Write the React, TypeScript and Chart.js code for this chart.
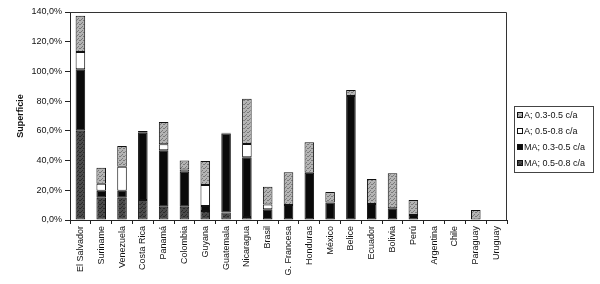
import React, { useEffect, useRef } from "react";
import { Chart, registerables } from "chart.js";

Chart.register(...registerables);

const countries = [
  "El Salvador", "Suriname", "Venezuela", "Costa Rica", "Panamá", "Colombia", "Guyana",
  "Guatemala", "Nicaragua", "Brasil", "G. Francesa", "Honduras", "México", "Belice",
  "Ecuador", "Bolivia", "Perú", "Argentina", "Chile", "Paraguay", "Uruguay",
];

// stacked from bottom to top
const maHigh = [60, 15, 15, 13.5, 9, 9, 6, 5, 2, 0, 0, 0, 0, 0, 0, 0, 0, 0, 0, 0, 0]; // MA; 0.5-0.8 c/a
const maLow = [41.5, 4.7, 4.7, 45.3, 38, 23.5, 3.4, 53.3, 40.2, 7.2, 10.1, 31.8, 11.7, 83.4, 10.8, 7.9, 3.4, 0, 0, 0, 0]; // MA; 0.3-0.5 c/a
const aHigh = [11.5, 4.7, 16.2, 0, 4, 1.5, 14.2, 0, 8.9, 3.3, 0, 0, 0, 0, 0, 0, 0, 0, 0, 0, 0]; // A; 0.5-0.8 c/a
const aLow = [24.5, 10.8, 13.9, 1.1, 15, 6, 16.1, 0.5, 30.5, 11.9, 22, 20.5, 7.1, 4.1, 16.8, 23.5, 10.1, 0, 0, 6.7, 0]; // A; 0.3-0.5 c/a

const yTicks = [0, 20, 40, 60, 80, 100, 120, 140];

const legendLabels = ["A; 0.3-0.5 c/a", "A; 0.5-0.8 c/a", "MA; 0.3-0.5 c/a", "MA; 0.5-0.8 c/a"];

const FONT = 'Arial, "Liberation Sans", sans-serif';

function makePattern(base: string, dot: string): CanvasPattern | string {
  const c = document.createElement("canvas");
  c.width = 4;
  c.height = 4;
  const g = c.getContext("2d");
  if (!g) return base;
  g.fillStyle = base;
  g.fillRect(0, 0, 4, 4);
  g.fillStyle = dot;
  g.fillRect(0, 0, 1, 1);
  g.fillRect(2, 2, 1, 1);
  g.fillRect(3, 0, 1, 1);
  g.fillRect(1, 3, 1, 1);
  const p = g.createPattern(c, "repeat");
  return p || base;
}

const nz = (arr: number[]) => arr.map((v) => (v === 0 ? null : v));

export default function App() {
  const ref = useRef<HTMLCanvasElement | null>(null);

  useEffect(() => {
    if (!ref.current) return;
    const lightPat = makePattern("#b4b4b4", "#7a7a7a");
    const darkPat = makePattern("#4a4a4a", "#2a2a2a");
    const fills = [lightPat, "#ffffff", "#0a0a0a", darkPat];

    const decor = {
      id: "decor",
      afterDraw(chart: any) {
        const ctx = chart.ctx as CanvasRenderingContext2D;
        const a = chart.chartArea;
        ctx.save();
        // frame top & right
        ctx.strokeStyle = "#333";
        ctx.lineWidth = 1;
        ctx.beginPath();
        ctx.moveTo(a.left, a.top + 0.5);
        ctx.lineTo(a.right - 0.5, a.top + 0.5);
        ctx.lineTo(a.right - 0.5, a.bottom);
        ctx.stroke();
        // y title
        ctx.translate(21, (a.top + a.bottom) / 2);
        ctx.rotate(-Math.PI / 2);
        ctx.fillStyle = "#111";
        ctx.font = "bold 9px " + FONT;
        ctx.textAlign = "center";
        ctx.textBaseline = "middle";
        ctx.fillText("Superficie", 0, 0);
        ctx.restore();

        // legend
        ctx.save();
        const lx = 514, ly = 106, lw = 79, lh = 66;
        ctx.fillStyle = "#fff";
        ctx.fillRect(lx, ly, lw, lh);
        ctx.strokeStyle = "#444";
        ctx.lineWidth = 1;
        ctx.strokeRect(lx + 0.5, ly + 0.5, lw, lh);
        ctx.font = "9px " + FONT;
        ctx.textBaseline = "middle";
        legendLabels.forEach((t, i) => {
          const y = ly + 9 + i * 16;
          ctx.fillStyle = fills[i] as any;
          ctx.fillRect(517, y - 3, 6, 6);
          ctx.strokeStyle = "#111";
          ctx.strokeRect(517.5, y - 2.5, 5, 5);
          ctx.fillStyle = "#111";
          ctx.fillText(t, 524, y + 0.5);
        });
        ctx.restore();
      },
    };

    const series = [maHigh, maLow, aHigh, aLow];
    const seriesFill = [darkPat, "#0a0a0a", "#ffffff", lightPat];
    const seriesLabel = [legendLabels[3], legendLabels[2], legendLabels[1], legendLabels[0]];

    const chart = new Chart(ref.current, {
      type: "bar",
      data: {
        labels: countries,
        datasets: series.map((s, i) => ({
          label: seriesLabel[i],
          data: nz(s) as any,
          backgroundColor: seriesFill[i] as any,
          borderColor: "#111",
          borderWidth: 1,
          borderSkipped: false,
          barPercentage: 0.46,
          categoryPercentage: 1,
        })),
      },
      options: {
        animation: false,
        responsive: false,
        maintainAspectRatio: false,
        layout: { padding: { top: 12, right: 93, left: 0, bottom: 0 } },
        plugins: { legend: { display: false }, tooltip: { enabled: false } },
        scales: {
          x: {
            stacked: true,
            offset: true,
            afterFit: (s: any) => {
              s.height = 64;
            },
            grid: {
              offset: true,
              drawOnChartArea: false,
              drawTicks: true,
              tickLength: 4,
              color: "#222",
            },
            border: { color: "#222", width: 1 },
            ticks: {
              minRotation: 90,
              maxRotation: 90,
              autoSkip: false,
              padding: 2,
              color: "#111",
              font: { family: FONT, size: 9 },
            },
          },
          y: {
            stacked: true,
            min: 0,
            max: 140,
            afterFit: (s: any) => {
              s.width = 70;
            },
            afterBuildTicks: (s: any) => {
              s.ticks = yTicks.map((v) => ({ value: v }));
            },
            grid: {
              drawOnChartArea: false,
              drawTicks: true,
              tickLength: 5,
              color: "#222",
            },
            border: { color: "#222", width: 1 },
            ticks: {
              padding: 3,
              color: "#111",
              font: { family: FONT, size: 9 },
              callback: (v: any) => Number(v).toFixed(1).replace(".", ",") + "%",
            },
          },
        },
      },
      plugins: [decor],
    });
    return () => chart.destroy();
  }, []);

  return (
    <div style={{ position: "fixed", left: 0, top: 0, width: 600, height: 284, background: "#fff" }}>
      <canvas ref={ref} width={600} height={284} style={{ width: 600, height: 284, display: "block" }} />
    </div>
  );
}
